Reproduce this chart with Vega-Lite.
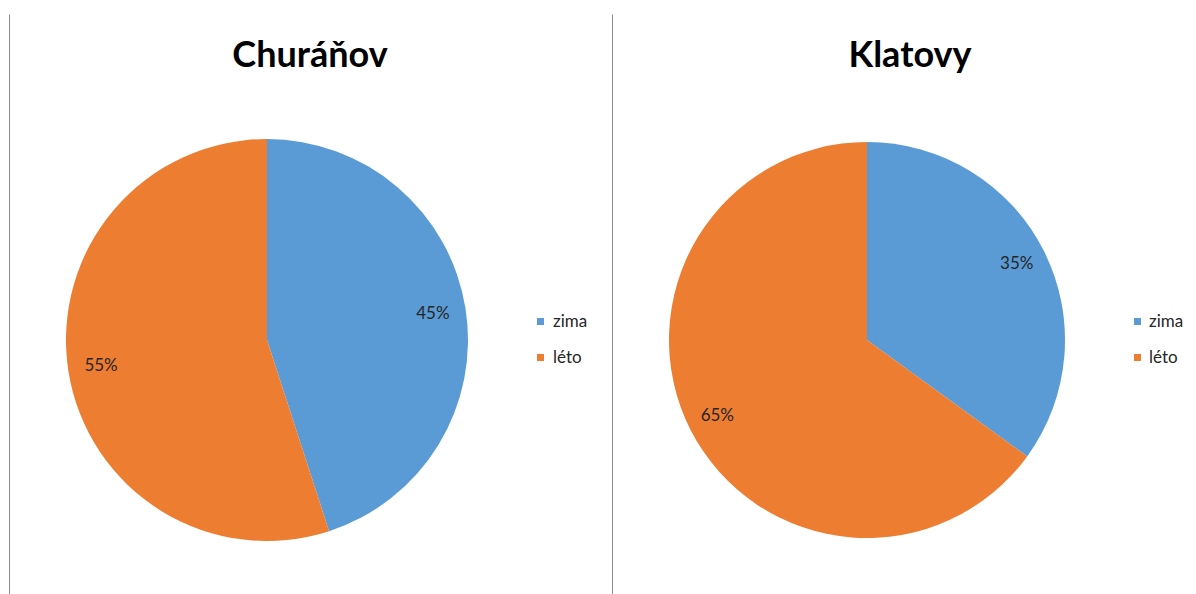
{
  "$schema": "https://vega.github.io/schema/vega-lite/v6.json",
  "background": "white",
  "padding": {"left": 9, "top": 14, "right": 0, "bottom": 0},
  "config": {
    "view": {"stroke": null},
    "font": "Lato",
    "axisY": {"domain": true, "domainColor": "#8c8c8c", "domainWidth": 1, "ticks": false, "labels": false, "grid": false, "title": null}
  },
  "data": {
    "values": [
      {"stanice": "Churáňov", "obdobi": "zima", "podil": 0.45},
      {"stanice": "Churáňov", "obdobi": "léto", "podil": 0.55},
      {"stanice": "Klatovy", "obdobi": "zima", "podil": 0.35},
      {"stanice": "Klatovy", "obdobi": "léto", "podil": 0.65}
    ]
  },
  "spacing": 87,
  "bounds": "flush",
  "resolve": {"scale": {"color": "independent"}, "legend": {"color": "independent"}},
  "hconcat": [
    {
      "width": 516,
      "height": 652,
      "transform": [{"filter": "datum.stanice === 'Churáňov'"}],
      "title": {"text": "Churáňov", "anchor": "middle", "frame": "group", "dx": 43, "offset": -89, "baseline": "alphabetic", "fontSize": 36, "fontWeight": "bold", "font": "Lato", "color": "#000000"},
      "layer": [
        {
          "mark": {"type": "point", "opacity": 0},
          "encoding": {"y": {"datum": 0, "type": "quantitative", "scale": {"domain": [0, 1]}}}
        },
        {
          "mark": {"type": "arc", "radius": 201},
          "encoding": {
            "theta": {"field": "podil", "type": "quantitative", "stack": true},
            "order": {"field": "obdobi", "sort": "descending"},
            "color": {
              "field": "obdobi", "type": "nominal",
              "scale": {"domain": ["zima", "léto"], "range": ["#5B9BD5", "#ED7D31"]},
              "legend": {"orient": "none", "legendX": 523, "legendY": 299, "title": null, "symbolType": "square", "symbolSize": 49, "symbolStrokeWidth": 0, "labelFontSize": 17, "labelFont": "Lato", "labelColor": "#262626", "labelOffset": 4, "rowPadding": 18, "padding": 0}
            }
          }
        },
        {
          "mark": {"type": "text", "radius": 168, "fontSize": 17, "font": "Lato", "color": "#262626"},
          "encoding": {
            "theta": {"field": "podil", "type": "quantitative", "stack": true},
            "order": {"field": "obdobi", "sort": "descending"},
            "detail": {"field": "obdobi"},
            "text": {"field": "podil", "type": "quantitative", "format": ".0%"}
          }
        }
      ]
    },
    {
      "width": 510,
      "height": 652,
      "transform": [{"filter": "datum.stanice === 'Klatovy'"}],
      "title": {"text": "Klatovy", "anchor": "middle", "frame": "group", "dx": 43, "offset": -89, "baseline": "alphabetic", "fontSize": 36, "fontWeight": "bold", "font": "Lato", "color": "#000000"},
      "layer": [
        {
          "mark": {"type": "point", "opacity": 0},
          "encoding": {"y": {"datum": 0, "type": "quantitative", "scale": {"domain": [0, 1]}}}
        },
        {
          "mark": {"type": "arc", "radius": 198},
          "encoding": {
            "theta": {"field": "podil", "type": "quantitative", "stack": true},
            "order": {"field": "obdobi", "sort": "descending"},
            "color": {
              "field": "obdobi", "type": "nominal",
              "scale": {"domain": ["zima", "léto"], "range": ["#5B9BD5", "#ED7D31"]},
              "legend": {"orient": "none", "legendX": 517, "legendY": 299, "title": null, "symbolType": "square", "symbolSize": 49, "symbolStrokeWidth": 0, "labelFontSize": 17, "labelFont": "Lato", "labelColor": "#262626", "labelOffset": 3, "rowPadding": 18, "padding": 0}
            }
          }
        },
        {
          "mark": {"type": "text", "radius": 168, "fontSize": 17, "font": "Lato", "color": "#262626"},
          "encoding": {
            "theta": {"field": "podil", "type": "quantitative", "stack": true},
            "order": {"field": "obdobi", "sort": "descending"},
            "detail": {"field": "obdobi"},
            "text": {"field": "podil", "type": "quantitative", "format": ".0%"}
          }
        }
      ]
    }
  ]
}
